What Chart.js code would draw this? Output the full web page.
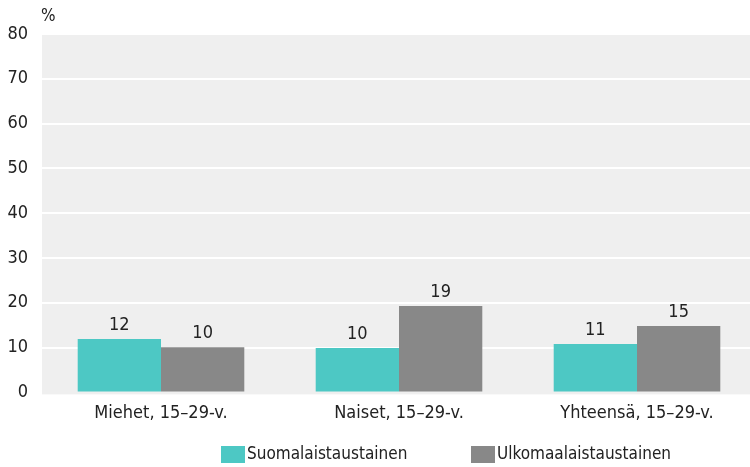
<!DOCTYPE html>
<html>
<head>
<meta charset="utf-8">
<script src="https://cdn.jsdelivr.net/npm/chart.js@4/dist/chart.umd.min.js"></script>
<style>
  html, body { margin: 0; padding: 0; background: #fff; overflow: hidden; }
  #wrap { width: 756px; height: 467px; }
</style>
</head>
<body>
<div id="wrap"><canvas id="chartCanvas" width="756" height="467"></canvas></div>
<script>
const categories = ['Miehet, 15–29-v.', 'Naiset, 15–29-v.', 'Yhteensä, 15–29-v.'];
const seriesNames = ['Suomalaistaustainen', 'Ulkomaalaistaustainen'];
const finnishBg = [11.9, 9.9, 10.8];
const foreignBg = [10.1, 19.3, 14.8];
const yTicks = [0, 10, 20, 30, 40, 50, 60, 70, 80];
const unitLabel = '%';
const colors = ['#4dc8c4', '#888888'];

const FONT = "'Liberation Sans Narrow', 'DejaVu Sans Condensed', 'Liberation Sans', sans-serif";

const plotBackground = {
    id: 'plotBackground',
    beforeDraw(chart) {
        const { ctx, chartArea } = chart;
        ctx.save();
        ctx.fillStyle = '#efefef';
        ctx.fillRect(chartArea.left, chartArea.top, chartArea.right - chartArea.left, chartArea.bottom - chartArea.top + 2);
        ctx.restore();
    },
    afterDraw(chart) {
        const { ctx, chartArea } = chart;
        ctx.save();
        ctx.font = '17px ' + FONT;
        ctx.fillStyle = '#222';
        ctx.textAlign = 'left';
        ctx.textBaseline = 'middle';
        ctx.fillText(unitLabel, chartArea.left - 1, 17);

        // legend along the bottom
        ctx.textBaseline = 'middle';
        let x = 221;
        chart.data.datasets.forEach((ds, i) => {
            ctx.fillStyle = ds.backgroundColor;
            ctx.fillRect(x, 446, 24, 17);
            ctx.fillStyle = '#222';
            ctx.fillText(ds.label, x + 26, 455);
            x = 471;
        });
        ctx.restore();
    }
};

const valueLabels = {
    id: 'valueLabels',
    afterDatasetsDraw(chart) {
        const { ctx } = chart;
        ctx.save();
        ctx.font = '18px ' + FONT;
        ctx.fillStyle = '#222';
        ctx.textAlign = 'center';
        ctx.textBaseline = 'bottom';
        chart.data.datasets.forEach((ds, i) => {
            chart.getDatasetMeta(i).data.forEach((bar, j) => {
                ctx.fillText(Math.round(ds.data[j]), bar.x, bar.y - 5);
            });
        });
        ctx.restore();
    }
};

new Chart(document.getElementById('chartCanvas'), {
    type: 'bar',
    data: {
        labels: categories,
        datasets: [
            { label: seriesNames[0], data: finnishBg, backgroundColor: colors[0] },
            { label: seriesNames[1], data: foreignBg, backgroundColor: colors[1] }
        ]
    },
    options: {
        responsive: false,
        animation: false,
        events: [],
        layout: { padding: { top: 34, right: 0, bottom: 33, left: 0 } },
        datasets: { bar: { categoryPercentage: 0.7, barPercentage: 1.0 } },
        plugins: {
            tooltip: { enabled: false },
            legend: { display: false }
        },
        scales: {
            x: {
                grid: { display: false, drawTicks: false },
                border: { display: false },
                ticks: { color: '#222', font: { family: FONT, size: 18 }, padding: 10 }
            },
            y: {
                min: 0,
                max: 80,
                afterFit(scale) { scale.width = 42; },
                afterBuildTicks(scale) { scale.ticks = yTicks.map(v => ({ value: v })); },
                grid: {
                    color: c => c.tick && c.tick.value === 0 ? 'rgba(0,0,0,0)' : '#ffffff',
                    lineWidth: 2,
                    drawTicks: false
                },
                border: { display: false },
                ticks: { color: '#222', font: { family: FONT, size: 18 }, padding: 14 }
            }
        }
    },
    plugins: [plotBackground, valueLabels]
});
</script>
</body>
</html>
